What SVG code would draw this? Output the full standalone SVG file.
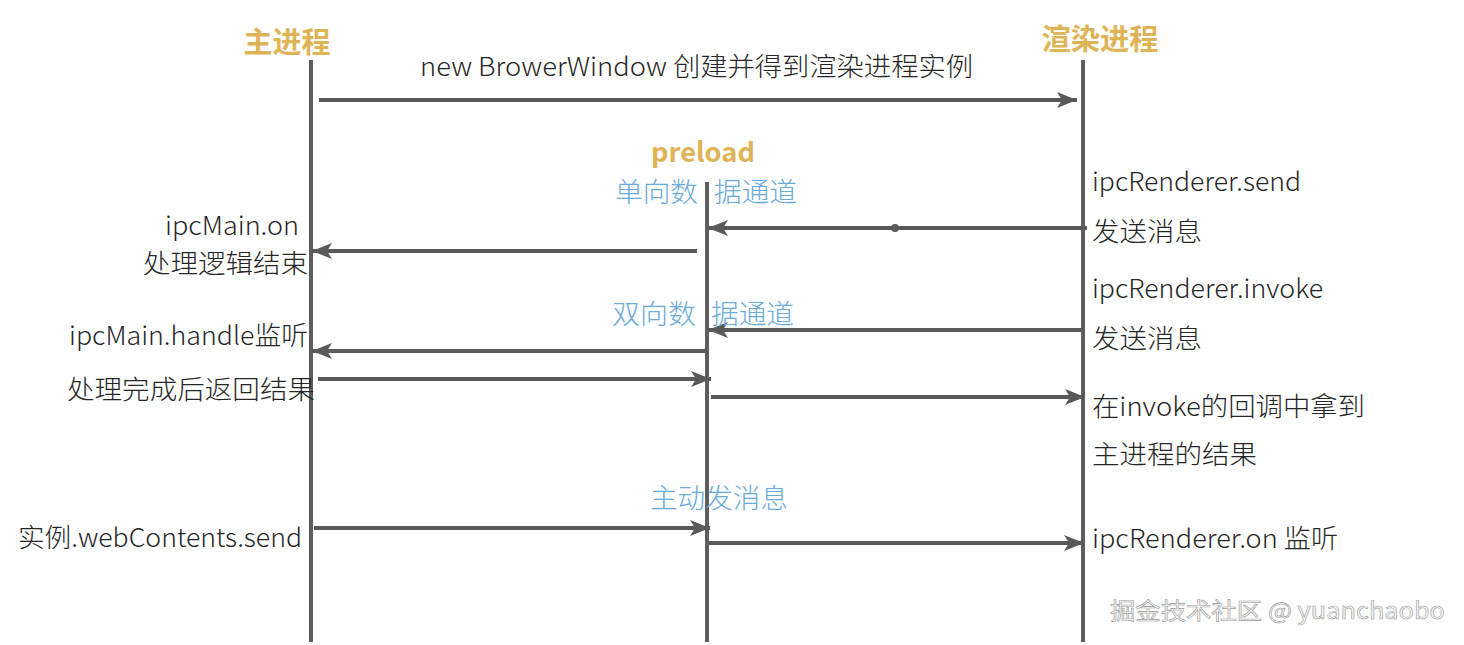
<svg xmlns="http://www.w3.org/2000/svg" width="1464" height="645" viewBox="0 0 1464 645">
<style>
.life{stroke:#5e5e5e;stroke-width:4;fill:none}
.msg{stroke:#595959;stroke-width:4;fill:none;marker-end:url(#arr)}
.hd{font-family:"Noto Sans CJK SC","Noto Sans",sans-serif;font-weight:bold;fill:#dfb457;font-size:29px}
.t{font-family:"Noto Sans CJK SC","Open Sans",sans-serif;fill:#262626;font-size:26px;font-weight:300}
.b{font-family:"Noto Sans CJK SC","Open Sans",sans-serif;fill:#6aabda;font-size:27px;font-weight:300}
.wm{font-family:"Noto Sans CJK SC","Open Sans",sans-serif;fill:#fbfbfb;stroke:#9a9a9a;stroke-width:0.6;font-size:23px}
</style>
<defs>
<marker id="arr" markerUnits="userSpaceOnUse" markerWidth="22" markerHeight="18" refX="20" refY="9" orient="auto" viewBox="0 0 22 18">
<path d="M0,1 L20,9 L0,17 L5,9 Z" fill="#595959"/>
</marker>
</defs>
<rect width="1464" height="645" fill="#ffffff"/>

<g id="main-process">
<line class="life" x1="311" y1="60" x2="311" y2="642"/>
<text class="hd" x="287" y="53" text-anchor="middle" textLength="87" lengthAdjust="spacingAndGlyphs">主进程</text>
</g>
<g id="renderer-process">
<line class="life" x1="1083" y1="60" x2="1083" y2="642"/>
<text class="hd" x="1100" y="50" text-anchor="middle" textLength="117" lengthAdjust="spacingAndGlyphs">渲染进程</text>
</g>
<g id="preload">
<line class="life" x1="707" y1="182" x2="707" y2="642"/>
<text class="hd" x="703" y="162" text-anchor="middle" textLength="104" lengthAdjust="spacingAndGlyphs" style="font-size:27px">preload</text>
</g>

<g id="connectors">
<line class="msg" x1="319" y1="100" x2="1077" y2="100"/>
<line class="msg" x1="1087" y1="228" x2="708" y2="228"/>
<circle cx="895" cy="228" r="4" fill="#595959"/>
<line class="msg" x1="697" y1="251" x2="312" y2="251"/>
<line class="msg" x1="1083" y1="330" x2="708" y2="330"/>
<line class="msg" x1="707" y1="351" x2="312" y2="351"/>
<line class="msg" x1="318" y1="379" x2="711" y2="379"/>
<line class="msg" x1="711" y1="397" x2="1085" y2="397"/>
<line class="msg" x1="314" y1="528" x2="710" y2="528"/>
<line class="msg" x1="709" y1="543" x2="1084" y2="543"/>
</g>

<g id="labels">
<text class="t" x="420" y="76" textLength="553" lengthAdjust="spacingAndGlyphs">new BrowerWindow 创建并得到渲染进程实例</text>
<text class="b" x="615" y="202" textLength="83" lengthAdjust="spacingAndGlyphs">单向数</text>
<text class="b" x="714" y="202" textLength="83" lengthAdjust="spacingAndGlyphs">据通道</text>
<text class="t" x="1092" y="191" textLength="209" lengthAdjust="spacingAndGlyphs">ipcRenderer.send</text>
<text class="t" x="1092" y="241" textLength="110" lengthAdjust="spacingAndGlyphs">发送消息</text>
<text class="t" x="299" y="235" text-anchor="end" textLength="134" lengthAdjust="spacingAndGlyphs">ipcMain.on</text>
<text class="t" x="308" y="273" text-anchor="end" textLength="165" lengthAdjust="spacingAndGlyphs">处理逻辑结束</text>
<text class="t" x="1092" y="298" textLength="231" lengthAdjust="spacingAndGlyphs">ipcRenderer.invoke</text>
<text class="t" x="1092" y="348" textLength="110" lengthAdjust="spacingAndGlyphs">发送消息</text>
<text class="b" x="612" y="324" textLength="84" lengthAdjust="spacingAndGlyphs">双向数</text>
<text class="b" x="711" y="324" textLength="83" lengthAdjust="spacingAndGlyphs">据通道</text>
<text class="t" x="308" y="345" text-anchor="end" textLength="239" lengthAdjust="spacingAndGlyphs">ipcMain.handle监听</text>
<text class="t" x="315" y="399" text-anchor="end" textLength="248" lengthAdjust="spacingAndGlyphs">处理完成后返回结果</text>
<text class="t" x="1092" y="416" textLength="273" lengthAdjust="spacingAndGlyphs">在invoke的回调中拿到</text>
<text class="t" x="1092" y="464" textLength="165" lengthAdjust="spacingAndGlyphs">主进程的结果</text>
<text class="b" x="650" y="508" textLength="138" lengthAdjust="spacingAndGlyphs">主动发消息</text>
<text class="t" x="302" y="547" text-anchor="end" textLength="284" lengthAdjust="spacingAndGlyphs">实例.webContents.send</text>
<text class="t" x="1092" y="548" textLength="246" lengthAdjust="spacingAndGlyphs">ipcRenderer.on 监听</text>
<text class="wm" x="1110" y="619" textLength="335" lengthAdjust="spacingAndGlyphs">掘金技术社区 @ yuanchaobo</text>
</g>
</svg>
